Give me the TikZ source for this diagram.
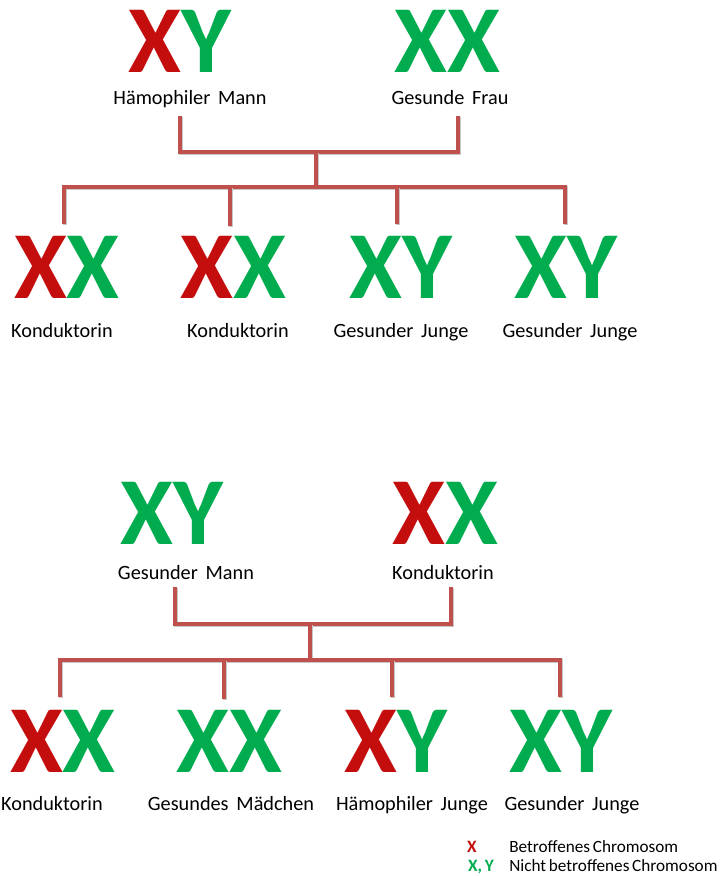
\documentclass[tikz,border=0pt]{standalone}
\usepackage{fontspec}
\setmainfont{Carlito}[WordSpace=1.7]
\newfontfamily\legfont{Carlito}[WordSpace=0.7]
\definecolor{chrred}{RGB}{196,14,14}
\definecolor{chrgreen}{RGB}{0,172,78}
\definecolor{linered}{RGB}{192,80,77}
\newcommand{\rX}{{\color{chrred}X}}
\newcommand{\gX}{{\color{chrgreen}X}}
\newcommand{\gY}{{\color{chrgreen}Y}}
\begin{document}
\begin{tikzpicture}[x=0.75pt,y=-0.75pt,
  chrom/.style={font=\fontsize{72}{72}\selectfont\bfseries, inner sep=0pt, anchor=center},
  lab/.style={font=\fontsize{15.2}{18}\selectfont, inner sep=0pt, anchor=base},
  leg/.style={font=\legfont\fontsize{12.9}{15}\selectfont, inner sep=0pt, anchor=base west},
  legsym/.style={font=\legfont\fontsize{13}{15}\selectfont\bfseries, inner sep=0pt, anchor=base},
  conn/.style={draw=linered, line width=3pt, line join=miter,
     preaction={draw=black!22, line width=3pt, transform canvas={shift={(1pt,-1pt)}}}}]
\useasboundingbox (0,0) rectangle (723,876);

% ---------- first family ----------
\node[chrom] (pa) at (180,41) {\rX\gY};
\node[chrom] (pb) at (447,41) {\gX\gX};
\node[lab] (lpa) at (190,104) {Hämophiler Mann};
\node[lab] (lpb) at (450,104) {Gesunde Frau};

\node[chrom] (ca) at (67,267) {\rX\gX};
\node[chrom] (cb) at (233,267) {\rX\gX};
\node[chrom] (cc) at (401,267) {\gX\gY};
\node[chrom] (cd) at (566,267) {\gX\gY};
\node[lab] (lca) at (62,337) {Konduktorin};
\node[lab] (lcb) at (238,337) {Konduktorin};
\node[lab] (lcc) at (401,337) {Gesunder Junge};
\node[lab] (lcd) at (570,337) {Gesunder Junge};

\coordinate (fa) at (180,116);
\coordinate (fb) at (458,116);
\coordinate (fm) at (316,152);
\coordinate (fh) at (316,187);
\coordinate (da) at (64,224);
\coordinate (db) at (230,226);
\coordinate (dc) at (397,224);
\coordinate (dd) at (565,224);

\draw[conn] (fa) |- (fm) -| (fb);
\draw[conn] (fm) -- (fh);
\draw[conn] (da) |- (fh) -| (dd);
\draw[conn] (db) -- (db |- fh);
\draw[conn] (dc) -- (dc |- fh);

% ---------- second family ----------
\node[chrom] (qa) at (172,513) {\gX\gY};
\node[chrom] (qb) at (445,513) {\rX\gX};
\node[lab] (lqa) at (186,579) {Gesunder Mann};
\node[lab] (lqb) at (443,579) {Konduktorin};

\node[chrom] (ea) at (63,741) {\rX\gX};
\node[chrom] (eb) at (229,741) {\gX\gX};
\node[chrom] (ec) at (396,741) {\rX\gY};
\node[chrom] (ed) at (561,741) {\gX\gY};
\node[lab] (lea) at (52,810) {Konduktorin};
\node[lab] (leb) at (231,810) {Gesundes Mädchen};
\node[lab] (lec) at (412,810) {Hämophiler Junge};
\node[lab] (led) at (572,810) {Gesunder Junge};

\coordinate (ga) at (175,587);
\coordinate (gb) at (451,587);
\coordinate (gm) at (310,624);
\coordinate (gh) at (310,660);
\coordinate (ha) at (60,697);
\coordinate (hb) at (224,699);
\coordinate (hc) at (392,697);
\coordinate (hd) at (560,697);

\draw[conn] (ga) |- (gm) -| (gb);
\draw[conn] (gm) -- (gh);
\draw[conn] (ha) |- (gh) -| (hd);
\draw[conn] (hb) -- (hb |- gh);
\draw[conn] (hc) -- (hc |- gh);

% ---------- legend ----------
\node[legsym, text=chrred] (s1) at (472,852) {X};
\node[legsym, text=chrgreen] (s2) at (481,871) {X, Y};
\node[leg] (t1) at (509,852) {Betroffenes Chromosom};
\node[leg] (t2) at (509,871) {Nicht betroffenes Chromosom};
\end{tikzpicture}
\end{document}
